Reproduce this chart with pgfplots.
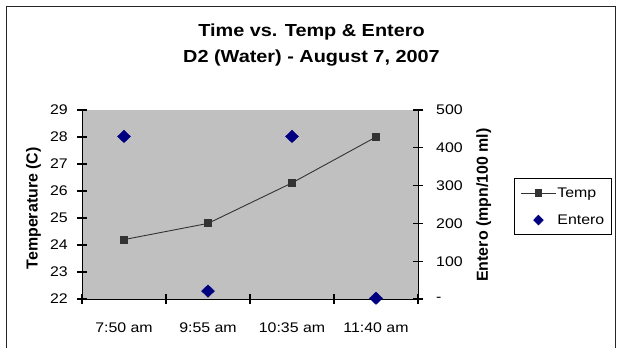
\documentclass[border=0pt]{standalone}
\usepackage{fontspec}
\setmainfont{Liberation Sans}[FakeStretch=1.14]
\newfontfamily\labelfont{Liberation Sans}
\usepackage{pgfplots}
\pgfplotsset{compat=1.18}
\definecolor{plotgray}{HTML}{C0C0C0}
\definecolor{navyc}{HTML}{000080}
\definecolor{tempc}{HTML}{333333}
\begin{document}
\begin{tikzpicture}
\useasboundingbox (0bp,0bp) rectangle (617bp,348bp);
\draw[line width=1bp, black!85] (6bp,-10bp) rectangle (615.5bp,341bp);
\node[font=\fontsize{17.5}{20}\selectfont\bfseries, anchor=base] at (311.5bp,311bp) {Time vs. Temp \& Entero};
\node[font=\fontsize{17.5}{20}\selectfont\bfseries, anchor=base] at (311.5bp,285bp) {D2 (Water) - August 7, 2007};
\begin{axis}[
  at={(82bp,49bp)}, anchor=south west,
  width=336bp, height=189bp, scale only axis,
  xmin=-0.5, xmax=3.5, ymin=22, ymax=29,
  axis x line*=bottom, axis y line*=left,
  axis line style={-, black, line width=1bp},
  axis background/.style={fill=plotgray},
  xtick={-0.5,0.5,1.5,2.5,3.5}, xticklabels={,,,,},
  extra x ticks={0,1,2,3},
  extra x tick labels={7:50 am, 9:55 am, 10:35 am, 11:40 am},
  extra x tick style={tick style={draw=none}},
  ytick={22,23,24,25,26,27,28,29},
  xtick align=center, ytick align=center,
  major tick length=10bp,
  tick style={black, line width=1.3bp},
  tick label style={font=\fontsize{14}{16}\selectfont},
  /pgf/number format/assume math mode=true,
  xticklabel style={anchor=base, yshift=-28.5bp},
  yticklabel style={anchor=east, inner sep=0pt, xshift=-9bp},
  ylabel={Temperature (C)},
  every axis y label/.style={at={(axis description cs:-0.1443,0.48)}, rotate=90, anchor=center, font=\labelfont\fontsize{16}{18}\selectfont\bfseries},
]
\addplot[color=tempc, line width=0.9bp, mark=square*, mark size=3.5bp, mark options={fill=tempc, draw=tempc}] coordinates {(0,24.2) (1,24.8) (2,26.3) (3,28.0)};
\end{axis}
\begin{axis}[
  at={(82bp,49bp)}, anchor=south west,
  width=336bp, height=189bp, scale only axis,
  xmin=-0.5, xmax=3.5, ymin=0, ymax=500,
  axis x line=none, axis y line*=right,
  axis line style={-, black, line width=1bp},
  ytick={0,100,200,300,400,500}, yticklabels={-,100,200,300,400,500},
  ytick align=center, major tick length=10bp,
  tick style={black, line width=1.3bp},
  tick label style={font=\fontsize{14}{16}\selectfont},
  yticklabel style={anchor=west, inner sep=0pt, xshift=13bp},
  ylabel={Entero (mpn/100 ml)},
  every axis y label/.style={at={(axis description cs:1.196,0.497)}, rotate=90, anchor=center, font=\labelfont\fontsize{16}{18}\selectfont\bfseries},
  clip=false,
  legend style={at={(axis description cs:1.286,0.640)}, anchor=north west, draw=black, line width=0.8bp, fill=white,
    font=\fontsize{14}{16}\selectfont, inner xsep=6bp, inner ysep=8bp, row sep=14bp,
    nodes={inner sep=1bp}},
  legend cell align=left,
]
\addlegendimage{color=tempc, line width=0.9bp, mark=square*, mark size=3.2bp, mark options={fill=tempc, draw=tempc},
  legend image code/.code={\draw[mark repeat=2,mark phase=2] plot coordinates {(0bp,0bp) (17.5bp,0bp) (35bp,0bp)};}}
\addlegendentry{Temp}
\addplot[only marks, mark=diamond*, mark size=6.2bp, mark options={xscale=1.4, fill=navyc, draw=navyc},
  legend image code/.code={\draw[mark size=4.8bp, mark options={xscale=1.3, fill=navyc, draw=navyc}] plot coordinates {(17.5bp,0bp)};}] coordinates {(0,430) (1,21) (2,430) (3,2)};
\addlegendentry{Entero}
\end{axis}
\end{tikzpicture}
\end{document}
